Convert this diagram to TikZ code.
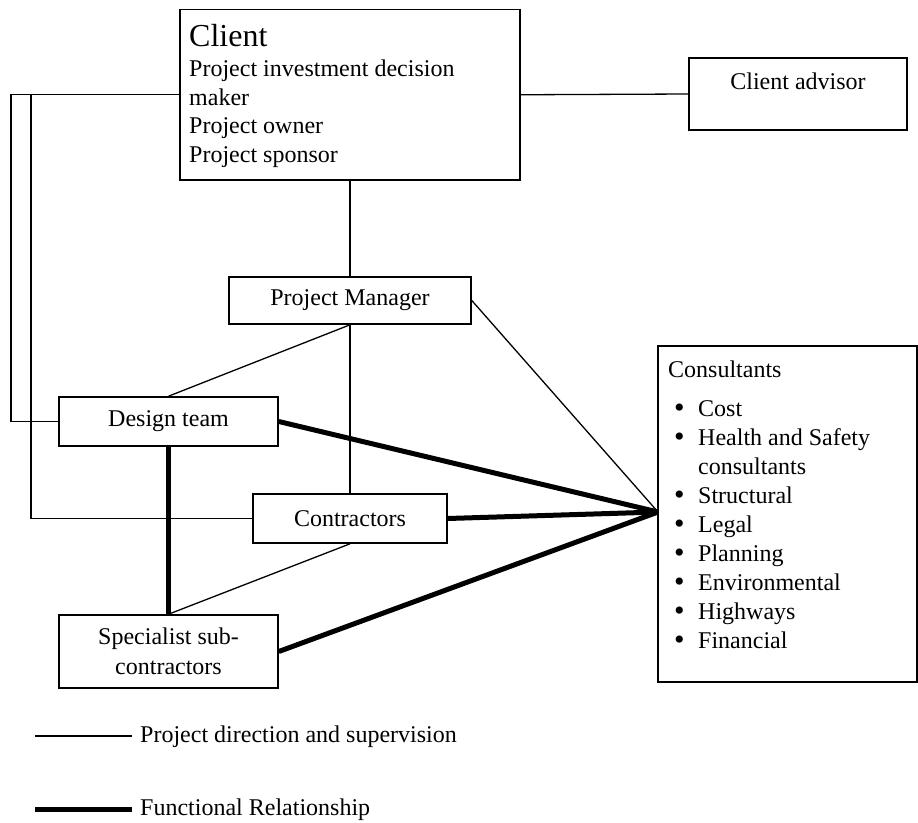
\documentclass[tikz,border=0pt]{standalone}
\usepackage{fontspec}
\setmainfont{Liberation Serif}
\newcommand{\itembullet}{\makebox[30pt][l]{\hspace{6pt}\raisebox{-1.5pt}{\fontsize{30}{29}\selectfont\textbullet}}}
\begin{document}
\begin{tikzpicture}[x=1pt,y=-1pt,
  box/.style={draw, line width=1.6pt, inner sep=0pt,
    font=\fontsize{24}{30}\selectfont, align=center},
  txt/.style={inner sep=0pt, font=\fontsize{24}{29}\selectfont},
  thinline/.style={line width=1.3pt},
  thickline/.style={line width=5pt},
]
\useasboundingbox (0,0) rectangle (918,822);

% boxes
\node[box, minimum width=340pt, minimum height=170.5pt] (client)  at (350,94.75) {};
\node[box, minimum width=218pt, minimum height=72pt]    (advisor) at (798,94) {};
\node[box, minimum width=242pt, minimum height=47pt]    (pm)      at (350,300.5) {Project Manager};
\node[box, minimum width=219pt, minimum height=49pt]    (design)  at (168.5,421.5) {Design team};
\node[box, minimum width=194pt, minimum height=49pt]    (contr)   at (350,518.5) {Contractors};
\node[box, minimum width=219pt, minimum height=73pt]    (spec)    at (168.5,651.5) {Specialist sub-\\contractors};
\node[box, minimum width=259pt, minimum height=336pt]   (cons)    at (787.5,514) {};

% box texts (base anchor sits on the last line)
\node[txt, anchor=base west, align=left, font=\fontsize{24}{28.5}\selectfont] (clienttext) at (189,162)
  {{\fontsize{32}{30}\selectfont Client}\\[1.5pt]
   Project investment decision\\
   maker\\
   Project owner\\
   Project sponsor};
\node[txt, anchor=base] (advtext) at ([yshift=-32pt]advisor.north) {Client advisor};
\node[txt, anchor=base west, align=left] (constext) at (668,648)
  {Consultants\\[10pt]
   \itembullet Cost\\
   \itembullet Health and Safety\\
   \makebox[30pt][l]{}consultants\\
   \itembullet Structural\\
   \itembullet Legal\\
   \itembullet Planning\\
   \itembullet Environmental\\
   \itembullet Highways\\
   \itembullet Financial};

% helper points
\coordinate (lftA) at (11,0);
\coordinate (lftB) at (31,0);
\coordinate (hub) at (658,512);

% direction and supervision
\draw[thinline] (client.east) -- (advisor.west);
\draw[thinline] (client.south) -- (pm.north);
\draw[thinline] (client.west) -- (client.west -| lftA) |- (design.west);
\draw[thinline] (client.west -| lftB) |- (contr.west);
\draw[thinline] (pm.south) -- (design.north);
\draw[thinline] (pm.south) -- (contr.north);
\draw[thinline] (pm.east) -- (hub);
\draw[thinline] (contr.south) -- (spec.north);

% functional relationships
\draw[thickline] (design.south) -- (spec.north);
\draw[thickline] (design.east) -- (hub);
\draw[thickline] (contr.east) -- (hub);
\draw[thickline] (spec.east) -- (hub);

% legend
\coordinate (lgA1) at (35,736);
\coordinate (lgA2) at (132,736);
\coordinate (lgB1) at (35,809);
\coordinate (lgB2) at (132,809);
\draw[thinline] (lgA1) -- (lgA2);
\draw[thickline] (lgB1) -- (lgB2);
\node[txt, anchor=base west] (lgAtext) at (140,742) {Project direction and supervision};
\node[txt, anchor=base west] (lgBtext) at (140,815) {Functional Relationship};
\end{tikzpicture}
\end{document}
